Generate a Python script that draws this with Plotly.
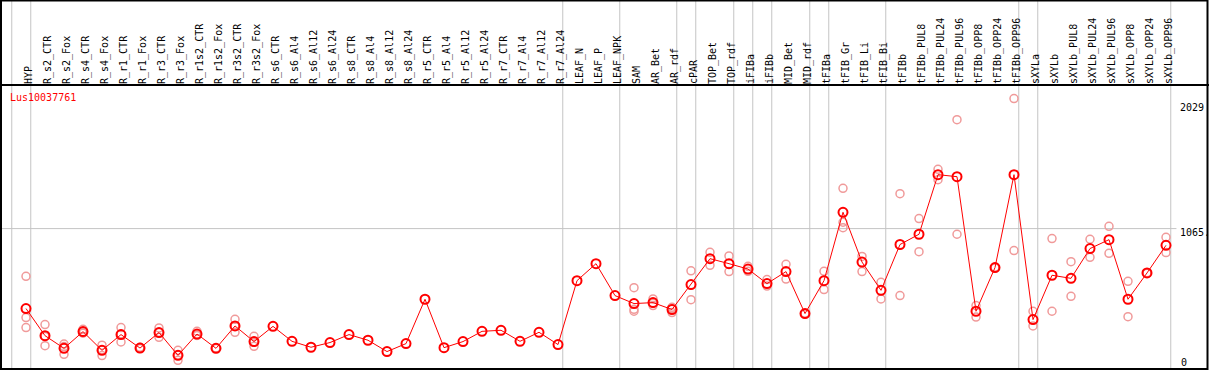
import plotly.graph_objects as go

categories = [
    "HYP", "R_s2_CTR", "R_s2_Fox", "R_s4_CTR", "R_s4_Fox", "R_r1_CTR", "R_r1_Fox",
    "R_r3_CTR", "R_r3_Fox", "R_r1s2_CTR", "R_r1s2_Fox", "R_r3s2_CTR", "R_r3s2_Fox",
    "R_s6_CTR", "R_s6_Al4", "R_s6_Al12", "R_s6_Al24", "R_s8_CTR", "R_s8_Al4",
    "R_s8_Al12", "R_s8_Al24", "R_r5_CTR", "R_r5_Al4", "R_r5_Al12", "R_r5_Al24",
    "R_r7_CTR", "R_r7_Al4", "R_r7_Al12", "R_r7_Al24", "LEAF_N", "LEAF_P", "LEAF_NPK",
    "SAM", "AR_Bet", "AR_rdf", "cPAR", "TOP_Bet", "TOP_rdf", "iFIBa", "iFIBb",
    "MID_Bet", "MID_rdf", "tFIBa", "tFIB_Gr", "tFIB_Li", "tFIB_Bi", "tFIBb",
    "tFIBb_PUL8", "tFIBb_PUL24", "tFIBb_PUL96", "tFIBb_OPP8", "tFIBb_OPP24",
    "tFIBb_OPP96", "sXYLa", "sXYLb", "sXYLb_PUL8", "sXYLb_PUL24", "sXYLb_PUL96",
    "sXYLb_OPP8", "sXYLb_OPP24", "sXYLb_OPP96",
]

mean_values = [
    472, 271, 177, 301, 162, 279, 179, 294, 125, 283, 177, 343, 227,
    340, 229, 185, 220, 279, 237, 153, 212, 541, 182, 227, 303,
    311, 229, 296, 205, 679, 805, 568,
    509, 516, 465, 650, 842, 805, 765, 657,
    746, 435, 679, 1186, 817, 607, 947,
    1023, 1465, 1450, 452, 776, 1465,
    390, 719, 696, 917, 983, 541, 736, 941,
]

rep_a = [
    711, 353, 209, 318, 200, 331, 185, 328, 162, 303, 180, 392, 266,
    None, None, None, None, None, None, None, None, None, None, None, None,
    None, None, None, None, None, None, None,
    627, 543, 442, 752, 889, 862, 785, 687,
    800, 437, 748, 1364, 859, 667, 1324,
    1139, 1505, 1873, 494, 778, 2029,
    452, 991, 820, 986, 1082, 674, 738, 1000,
]
rep_b = [
    405, 264, 190, 289, 165, 282, 176, 294, 125, 274, 175, 340, 222,
    None, None, None, None, None, None, None, None, None, None, None, None,
    None, None, None, None, None, None, None,
    466, 512, 481, 538, 793, 746, 748, 639,
    691, 432, 613, 1112, 746, 543, 568,
    894, 1428, 1023, 409, 773, 902,
    343, 452, 563, 852, 882, 412, 733, 887,
]
rep_c = [
    331, 197, 133, 296, 123, 224, 177, 259, 88, 273, None, 296, 192,
    None, None, None, None, None, None, None, None, None, None, None, None,
    None, None, None, None, None, None, None,
    452, 494, 472, None, None, None, None, None,
    None, None, None, 1072, None, None, None,
    None, None, None, None, None, None,
    None, None, None, None, None, None, None, None,
]

separators = [-1, 0, 28, 31, 34, 35, 37, 38, 39, 41, 42, 45, 52, 53, 60]
y_max = 2130
gene_id = "Lus10037761"

W, H = 1209, 370
T = 85
plot_h = H - T
x_idx = list(range(len(categories)))

MONO = "DejaVu Sans Mono, monospace"
RED = "#ff0000"
PINK = "#f09a9a"


def px_x(p):
    return p / W


def px_y(p):
    return (H - p) / plot_h


fig = go.Figure()

for reps in (rep_a, rep_b, rep_c):
    fig.add_trace(go.Scatter(
        x=x_idx, y=reps, mode="markers",
        marker=dict(symbol="circle-open", size=8, color=PINK, line=dict(width=1.5, color=PINK)),
        showlegend=False, hoverinfo="skip", cliponaxis=False,
    ))

fig.add_trace(go.Scatter(
    x=x_idx, y=mean_values, mode="lines+markers",
    line=dict(color=RED, width=1),
    marker=dict(symbol="circle-open", size=9, color=RED, line=dict(width=2, color=RED)),
    showlegend=False, cliponaxis=False,
))

shapes = []
for s in separators:
    shapes.append(dict(type="line", xref="x", yref="paper", x0=s + 0.25, x1=s + 0.25,
                       y0=0, y1=px_y(0), line=dict(color="#c4c4c4", width=1), layer="below"))
shapes.append(dict(type="line", xref="x", yref="y", x0=-1.5, x1=60.55, y0=y_max / 2, y1=y_max / 2,
                   line=dict(color="#c4c4c4", width=1), layer="below"))
# frame
shapes.append(dict(type="line", xref="paper", yref="paper", x0=0, x1=1, y0=1, y1=1,
                   line=dict(color="black", width=2)))
shapes.append(dict(type="rect", xref="paper", yref="paper", x0=px_x(1), x1=px_x(1207.5),
                   y0=px_y(369), y1=px_y(0.5), line=dict(color="black", width=2)))

annotations = [
    dict(text=gene_id, xref="paper", yref="paper", x=px_x(8), y=px_y(97), xanchor="left",
         yanchor="middle", showarrow=False, font=dict(family=MONO, size=10, color=RED)),
    dict(text="2029", xref="paper", yref="y", x=px_x(1178), y=2029, yshift=-9, xanchor="left",
         yanchor="middle", showarrow=False, font=dict(family=MONO, size=10, color="black")),
    dict(text="1065.", xref="paper", yref="y", x=px_x(1178), y=y_max / 2, yshift=-3.5, xanchor="left",
         yanchor="middle", showarrow=False, font=dict(family=MONO, size=10, color="black")),
    dict(text="0", xref="paper", yref="paper", x=px_x(1179), y=px_y(362.5), xanchor="left",
         yanchor="middle", showarrow=False, font=dict(family=MONO, size=10, color="black")),
]

x_lo = -26 / 19
x_hi = (W - 26) / 19
y_lo = y_max - (H - T) * (y_max / 2 / (371.9 - 228.3)) * 1.0

fig.update_layout(
    width=W, height=H,
    margin=dict(l=0, r=0, t=T, b=0, pad=0),
    paper_bgcolor="white", plot_bgcolor="white",
    shapes=shapes, annotations=annotations,
    xaxis=dict(range=[x_lo, x_hi], side="top", tickmode="array", tickvals=x_idx,
               ticktext=categories, tickangle=-90, ticks="", showgrid=False, zeroline=False,
               showline=False, tickfont=dict(family=MONO, size=10, color="black"),
               ticklabelshift=3, automargin=False, fixedrange=True),
    yaxis=dict(range=[y_lo, y_max], showticklabels=False, showgrid=False, zeroline=False,
               showline=False, automargin=False, fixedrange=True),
)

fig.write_html(
    "out.html",
    config={"displayModeBar": False},
    post_script="document.body.style.margin='0';document.body.style.overflow='hidden';",
)
